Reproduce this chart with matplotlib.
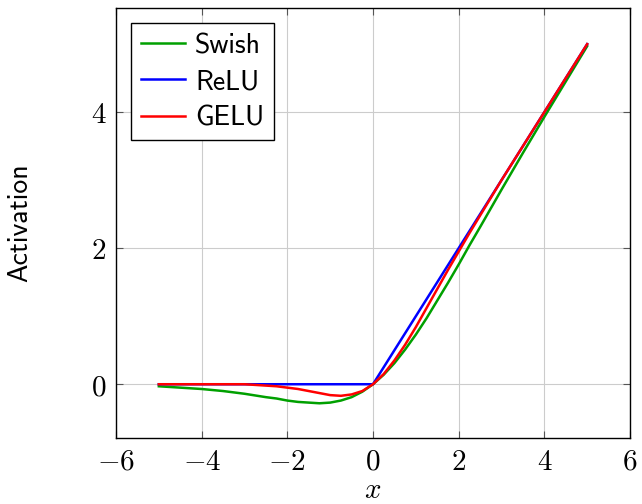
import matplotlib
matplotlib.use("Agg")
import matplotlib.pyplot as plt

# values
x_vals = [-5, -4.5, -4, -3.5, -3, -2.5, -2.25, -2, -1.75, -1.5, -1.25, -1, -0.75, -0.5, -0.25,
          0, 0.25, 0.5, 0.75, 1, 1.25, 1.5, 1.75, 2, 2.25, 2.5, 3, 3.5, 4, 4.5, 5]
swish = [-0.03, -0.05, -0.07, -0.10, -0.14, -0.19, -0.21, -0.24, -0.26, -0.27, -0.28, -0.27, -0.24, -0.19, -0.11,
         0, 0.14, 0.31, 0.51, 0.73, 0.97, 1.23, 1.49, 1.76, 2.04, 2.31, 2.86, 3.40, 3.93, 4.45, 4.97]
relu = [0, 0, 0, 0, 0, 0, 0, 0, 0, 0, 0, 0, 0, 0, 0,
        0, 0.25, 0.5, 0.75, 1, 1.25, 1.5, 1.75, 2, 2.25, 2.5, 3, 3.5, 4, 4.5, 5]
gelu = [0, 0, 0, 0, 0, -0.02, -0.03, -0.05, -0.07, -0.10, -0.13, -0.16, -0.17, -0.15, -0.10,
        0, 0.15, 0.35, 0.58, 0.84, 1.12, 1.40, 1.68, 1.95, 2.22, 2.48, 3.00, 3.50, 4.00, 4.50, 5.00]
x_ticks = [-6, -4, -2, 0, 2, 4, 6]
y_ticks = [0, 2, 4]

plt.rcParams["mathtext.fontset"] = "cm"
plt.rcParams["axes.formatter.use_mathtext"] = True

fig = plt.figure(figsize=(6.42, 5.04), dpi=100)
ax = fig.add_axes([0.1807, 0.131, 0.8006, 0.853])

ax.plot(x_vals, swish, color="#00a000", lw=1.8, label="Swish")
ax.plot(x_vals, relu, color="#0000ff", lw=1.8, label="ReLU")
ax.plot(x_vals, gelu, color="#ff0000", lw=1.8, label="GELU")

ax.set_xlim(-6, 6)
ax.set_ylim(-0.79, 5.53)
ax.set_xticks(x_ticks)
ax.set_yticks(y_ticks)
ax.set_xticklabels([f"${t}$" if t >= 0 else f"$-{abs(t)}$" for t in x_ticks], fontsize=21)
ax.set_yticklabels([f"${t}$" for t in y_ticks], fontsize=21)
ax.tick_params(direction="in", top=True, right=True, length=5, width=0.8, color="#555555", pad=7)
ax.grid(True, color="#cccccc", lw=0.8)
ax.set_axisbelow(True)
for s in ax.spines.values():
    s.set_linewidth(1.0)

ax.set_xlabel("$x$", fontsize=21, labelpad=0)
ax.set_ylabel("Activation", fontsize=20, family="cmss10", labelpad=42)

leg = ax.legend(loc="upper left", prop={"family": "cmss10", "size": 20}, fancybox=False,
                edgecolor="black", framealpha=1, handlelength=1.6, borderpad=0.35,
                labelspacing=0.4, handletextpad=0.35, borderaxespad=0.55)
leg.get_frame().set_linewidth(1.0)

fig.savefig("out.png", dpi=100)
